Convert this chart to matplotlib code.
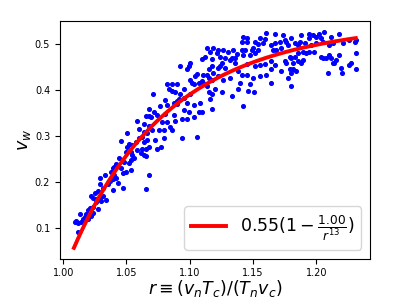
import numpy as np
import matplotlib.pyplot as plt

# scatter data (r, v_w)
r_data = [
    1.0418, 1.0405, 1.0431, 1.0484, 1.0523, 1.0536, 1.0497, 1.0471, 1.0458, 1.0392,
    1.0379, 1.0405, 1.0327, 1.0288, 1.0366, 1.0392, 1.0418, 1.0431, 1.0471, 1.0392,
    1.0353, 1.0288, 1.0314, 1.0275, 1.0248, 1.0222, 1.0235, 1.0314, 1.0340, 1.0301,
    1.0288, 1.0261, 1.0261, 1.0275, 1.0235, 1.0209, 1.0196, 1.0235, 1.0222, 1.0183,
    1.0170, 1.0157, 1.0196, 1.0131, 1.0105, 1.0092, 1.0118, 1.0118, 1.0144,
    1.0808, 1.0761, 1.0821, 1.0677, 1.0677, 1.0651, 1.0690, 1.0716, 1.0742, 1.0808,
    1.0782, 1.0821, 1.0847, 1.0795, 1.0756, 1.0703, 1.0677, 1.0638, 1.0586, 1.0599,
    1.0638, 1.0664, 1.0625, 1.0599, 1.0573, 1.0638, 1.0664, 1.0677, 1.0651, 1.0625,
    1.0612, 1.0638, 1.0651, 1.0586, 1.0546, 1.0520, 1.0507, 1.0455, 1.0507, 1.0494,
    1.0533, 1.0546, 1.0559, 1.0533, 1.0468, 1.0442, 1.0677, 1.0651, 1.0769, 1.0742,
    1.0729, 1.0795,
    1.1161, 1.1122, 1.1095, 1.1174, 1.1004, 1.0991, 1.0978, 1.0925, 1.1174, 1.1148,
    1.1187, 1.1135, 1.1108, 1.1056, 1.1043, 1.1004, 1.1017, 1.1030, 1.1069, 1.1095,
    1.1148, 1.1174, 1.1135, 1.1148, 1.1174, 1.1161, 1.1174, 1.1082, 1.1030, 1.1069,
    1.1095, 1.1004, 1.0952, 1.0899, 1.0860, 1.0821, 1.0834, 1.0860, 1.0886, 1.0925,
    1.0952, 1.0899, 1.0873, 1.0899, 1.0873, 1.0886, 1.0939, 1.0860, 1.0939, 1.1056,
    1.0711, 1.0912, 1.0978, 1.0952, 1.0991, 1.0978, 1.1030, 1.1108, 1.1200,
    1.1605, 1.1671, 1.1736, 1.1749, 1.1710, 1.1671, 1.1644, 1.1658, 1.1684, 1.1723,
    1.1553, 1.1592, 1.1579, 1.1540, 1.1514, 1.1448, 1.1422, 1.1448, 1.1409, 1.1501,
    1.1540, 1.1514, 1.1488, 1.1475, 1.1435, 1.1409, 1.1422, 1.1370, 1.1344, 1.1357,
    1.1331, 1.1305, 1.1265, 1.1226, 1.1187, 1.1135, 1.1213, 1.1239, 1.1278, 1.1318,
    1.1252, 1.1226, 1.1239, 1.1278, 1.1226, 1.1265, 1.1318, 1.1383, 1.1409, 1.1448,
    1.1396, 1.1475, 1.1501, 1.1553, 1.1605, 1.1644, 1.1671, 1.1644, 1.1592, 1.1553,
    1.1514, 1.1448, 1.1644, 1.1723, 1.1749, 1.1383, 1.1461, 1.1331, 1.1252, 1.1422,
    1.1357, 1.1510,
    1.1762, 1.1775, 1.1801, 1.1827, 1.1854, 1.1880, 1.1867, 1.1906, 1.1945, 1.1971,
    1.1997, 1.1945, 1.1958, 1.1997, 1.2024, 1.2063, 1.2037, 1.2050, 1.2102, 1.2115,
    1.2128, 1.2180, 1.2207, 1.2259, 1.2311, 1.2311, 1.2272, 1.2311, 1.2194, 1.2154,
    1.2115, 1.2102, 1.2076, 1.2050, 1.2037, 1.1984, 1.1945, 1.1919, 1.1893, 1.1854,
    1.1827, 1.1801, 1.1788, 1.1762, 1.1814, 1.1854, 1.1893, 1.1880, 1.1788, 1.1814,
    1.1841, 1.1801, 1.1775, 1.1801, 1.2089, 1.2180, 1.2128, 1.2259, 1.2306, 1.2201,
    1.2140,
]
vw_data = [
    0.239, 0.234, 0.236, 0.243, 0.241, 0.227, 0.223, 0.220, 0.231, 0.231,
    0.223, 0.216, 0.215, 0.209, 0.202, 0.206, 0.209, 0.199, 0.188, 0.184,
    0.195, 0.196, 0.188, 0.181, 0.177, 0.170, 0.166, 0.170, 0.161, 0.159,
    0.166, 0.163, 0.156, 0.141, 0.145, 0.144, 0.139, 0.134, 0.127, 0.131,
    0.124, 0.120, 0.120, 0.131, 0.116, 0.113, 0.111, 0.091, 0.113,
    0.378, 0.366, 0.368, 0.359, 0.343, 0.343, 0.341, 0.352, 0.345, 0.348,
    0.331, 0.331, 0.320, 0.313, 0.313, 0.313, 0.323, 0.327, 0.332, 0.316,
    0.309, 0.306, 0.298, 0.295, 0.288, 0.288, 0.291, 0.277, 0.273, 0.273,
    0.263, 0.259, 0.256, 0.270, 0.281, 0.284, 0.306, 0.289, 0.277, 0.266,
    0.266, 0.259, 0.252, 0.248, 0.245, 0.252, 0.216, 0.186, 0.277, 0.273,
    0.291, 0.295,
    0.484, 0.473, 0.468, 0.468, 0.459, 0.452, 0.445, 0.453, 0.452, 0.445,
    0.438, 0.434, 0.434, 0.436, 0.430, 0.423, 0.416, 0.413, 0.416, 0.420,
    0.427, 0.423, 0.408, 0.395, 0.391, 0.380, 0.359, 0.373, 0.368, 0.353,
    0.353, 0.391, 0.402, 0.413, 0.413, 0.413, 0.402, 0.398, 0.396, 0.391,
    0.384, 0.377, 0.373, 0.370, 0.345, 0.334, 0.338, 0.313, 0.296, 0.298,
    0.391, 0.380, 0.373, 0.356, 0.352, 0.338, 0.341, 0.416, 0.402,
    0.525, 0.523, 0.520, 0.509, 0.505, 0.502, 0.498, 0.488, 0.488, 0.491,
    0.513, 0.511, 0.502, 0.500, 0.505, 0.514, 0.516, 0.505, 0.505, 0.491,
    0.488, 0.480, 0.488, 0.477, 0.488, 0.488, 0.477, 0.478, 0.488, 0.470,
    0.470, 0.484, 0.488, 0.488, 0.491, 0.491, 0.480, 0.473, 0.470, 0.466,
    0.459, 0.448, 0.452, 0.448, 0.430, 0.423, 0.427, 0.441, 0.434, 0.434,
    0.416, 0.413, 0.427, 0.430, 0.434, 0.445, 0.455, 0.463, 0.457, 0.455,
    0.452, 0.457, 0.416, 0.441, 0.464, 0.402, 0.398, 0.388, 0.395, 0.366,
    0.459, 0.395,
    0.505, 0.498, 0.513, 0.502, 0.498, 0.520, 0.505, 0.502, 0.523, 0.520,
    0.516, 0.513, 0.498, 0.502, 0.523, 0.527, 0.513, 0.505, 0.498, 0.516,
    0.502, 0.522, 0.502, 0.509, 0.509, 0.480, 0.459, 0.445, 0.448, 0.466,
    0.470, 0.477, 0.470, 0.470, 0.473, 0.484, 0.484, 0.480, 0.484, 0.480,
    0.473, 0.470, 0.473, 0.459, 0.459, 0.463, 0.466, 0.459, 0.445, 0.446,
    0.441, 0.438, 0.427, 0.409, 0.438, 0.477, 0.459, 0.455, 0.505, 0.438,
    0.460,
]

# fit: a * (1 - b / r**n)
a_fit = 0.55
b_fit = 1.00
n_fit = 13
r_min, r_max = 1.0085, 1.2311

r = np.array(r_data)
vw = np.array(vw_data)
r_fit = np.linspace(r_min, r_max, 200)
vw_fit = a_fit * (1 - b_fit / r_fit**n_fit)

fig = plt.figure(figsize=(3.99, 2.99), dpi=100)
ax = fig.add_subplot(111)
fig.subplots_adjust(left=0.15, right=0.927, bottom=0.135, top=0.93)

ax.scatter(r, vw, s=7, color='b', zorder=2)
ax.plot(r_fit, vw_fit, color='r', lw=2.8, zorder=3,
        label=r'$0.55(1-\frac{1.00}{r^{13}})$')

ax.set_xticks([1.00, 1.05, 1.10, 1.15, 1.20])
ax.set_yticks([0.1, 0.2, 0.3, 0.4, 0.5])
ax.tick_params(labelsize=7)
ax.set_xlabel(r'$r \equiv (v_nT_c)/(T_nv_c)$', fontsize=12.5, labelpad=0)
ax.set_ylabel(r'$v_w$', fontsize=12.5, labelpad=1)
ax.legend(loc='lower right', fontsize=12.5)

plt.savefig('out.png')
